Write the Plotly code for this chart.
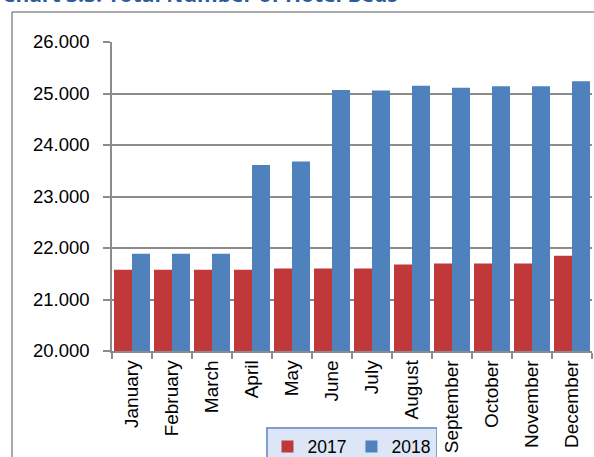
import plotly.graph_objects as go

months = ["January", "February", "March", "April", "May", "June", "July",
          "August", "September", "October", "November", "December"]
beds_2017 = [21580, 21580, 21580, 21580, 21600, 21600, 21600, 21680, 21700, 21700, 21700, 21850]
beds_2018 = [21890, 21890, 21890, 23610, 23680, 25070, 25060, 25150, 25110, 25140, 25140, 25240]
title_text = "Chart 3.3: Total Number of Hotel Beds"

W, H = 594, 457
ml, mr, mt, mb = 112, 2, 42, 106
pw, ph = W - ml - mr, H - mt - mb

def px_x(x):
    return (x - ml) / pw

def px_y(y):
    return (H - mb - y) / ph

FONT = "Liberation Sans"

fig = go.Figure()
fig.add_trace(go.Bar(x=months, y=beds_2017, name="2017", marker=dict(color="#c0383a", line=dict(width=0))))
fig.add_trace(go.Bar(x=months, y=beds_2018, name="2018", marker=dict(color="#4f81bd", line=dict(width=0))))

fig.update_layout(
    width=W, height=H,
    margin=dict(l=ml, r=mr, t=mt, b=mb, autoexpand=False),
    paper_bgcolor="white", plot_bgcolor="white",
    barmode="group", bargap=0.1, bargroupgap=0,
    separators=",.",
    font=dict(family=FONT, color="#000000"),
    showlegend=True,
    legend=dict(orientation="h", x=px_x(266), y=px_y(427), xanchor="left", yanchor="top",
                bgcolor="#dce6f6", bordercolor="#7f9fcf", borderwidth=1.5,
                font=dict(size=17.5, family=FONT, color="#000"),
                itemwidth=30, tracegroupgap=0),
    xaxis=dict(type="category", tickangle=-90, tickfont=dict(size=19),
               showline=True, linecolor="#8c8c8c", linewidth=1.5,
               ticks="outside", ticklen=6, tickcolor="#8c8c8c", tickwidth=1.5,
               tickson="boundaries", showgrid=False, automargin=False),
    yaxis=dict(range=[20000, 26000], dtick=1000, tickformat=",.0f",
               tickfont=dict(size=18.5),
               showline=True, linecolor="#8c8c8c", linewidth=1.5,
               ticks="outside", ticklen=7, tickcolor="#8c8c8c", tickwidth=1.5,
               showgrid=True, gridcolor="#8c8c8c", gridwidth=1.5,
               ticklabelstandoff=10, zeroline=False, automargin=False),
    shapes=[
        dict(type="line", xref="paper", yref="paper", x0=px_x(12), x1=px_x(600),
             y0=px_y(12), y1=px_y(12), line=dict(color="#8c8c8c", width=1.5)),
        dict(type="line", xref="paper", yref="paper", x0=px_x(12), x1=px_x(12),
             y0=px_y(12), y1=px_y(470), line=dict(color="#8c8c8c", width=1.5)),
    ],
    annotations=[
        dict(text="<b>" + title_text + "</b>", xref="paper", yref="paper",
             x=px_x(0), y=px_y(10), xanchor="left", yanchor="bottom", showarrow=False,
             font=dict(size=21, color="#2a5c9e", family="Open Sans")),
    ],
)

fig.write_html("out.html", config={"displayModeBar": False},
               post_script="document.body.style.margin='0';")
